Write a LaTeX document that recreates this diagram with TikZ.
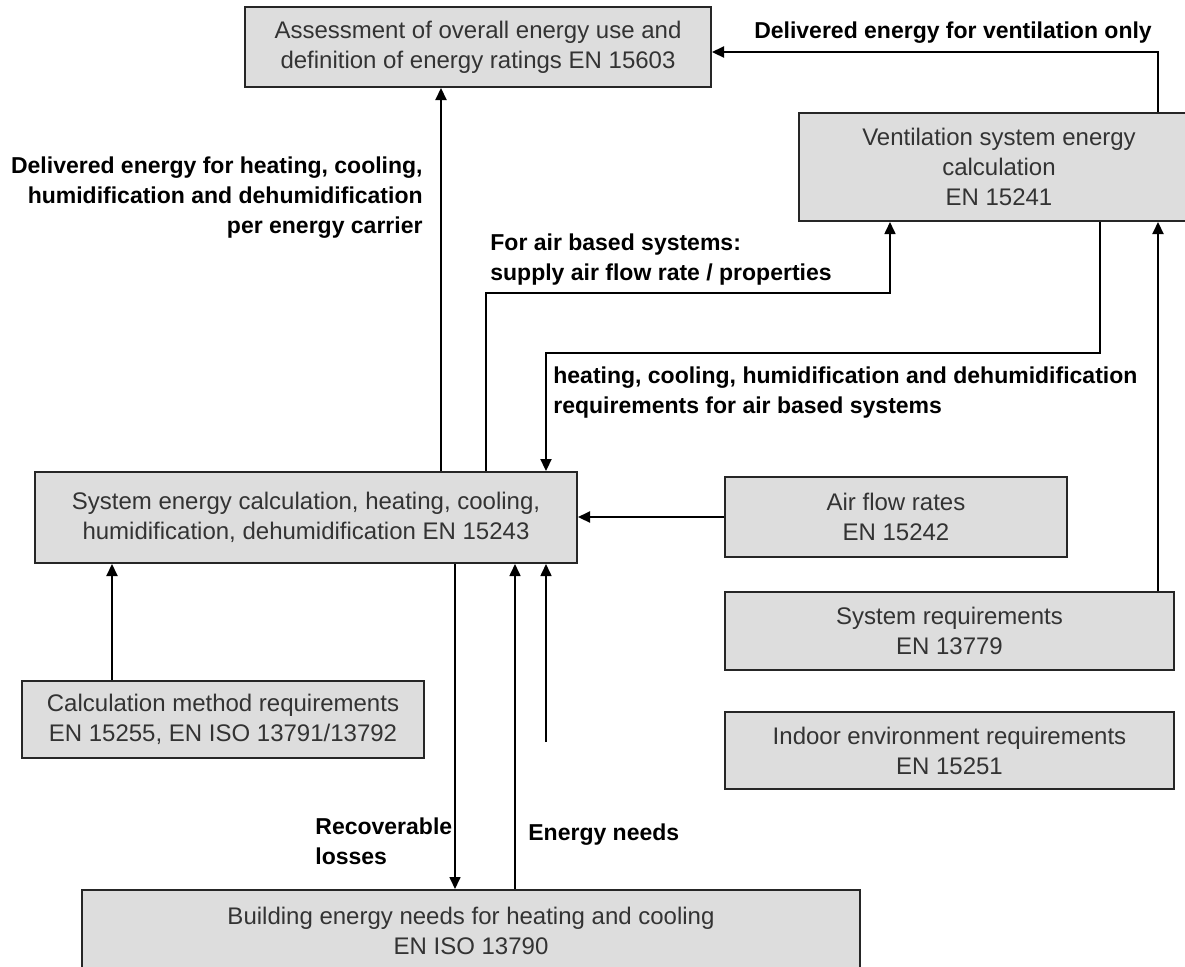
\documentclass[tikz,border=0pt]{standalone}
\usepackage{fontspec}
\setmainfont{Liberation Sans}
\usetikzlibrary{arrows.meta}
\definecolor{boxgray}{RGB}{221,221,221}

\begin{document}
\begin{tikzpicture}
  [x=0.5pt, y=-0.5pt,
   every node/.style={inner sep=0pt},
   box/.style={draw=black!85, fill=boxgray, line width=1pt, text=black!80,
               align=center, font=\fontsize{12}{15}\selectfont},
   lab/.style={font=\bfseries\fontsize{11.5}{15}\selectfont, text=black},
   flow/.style={line width=1.1pt, -{Triangle[length=6pt,width=5.5pt]}},
   thinflow/.style={flow, line width=0.8pt}]
  \useasboundingbox (0,0) rectangle (1185,966);

  \node[box, minimum width=233pt, minimum height=40pt] (assess) at (478,47)
    {Assessment of overall energy use and\\definition of energy ratings EN 15603};
  \node[box, minimum width=200pt, minimum height=54pt] (vent) at (999,167)
    {Ventilation system energy\\calculation\\EN 15241};
  \node[box, minimum width=271pt, minimum height=45.5pt] (system) at (306,517.5)
    {System energy calculation, heating, cooling,\\humidification, dehumidification EN 15243};
  \node[box, minimum width=171pt, minimum height=40pt] (airflow) at (896,517)
    {Air flow rates\\EN 15242};
  \node[box, minimum width=224.5pt, minimum height=39pt] (sysreq) at (949.5,631)
    {System requirements\\EN 13779};
  \node[box, minimum width=224.5pt, minimum height=38.5pt] (indoor) at (949.5,750.5)
    {Indoor environment requirements\\EN 15251};
  \node[box, minimum width=201pt, minimum height=38.5pt] (method) at (223,719.5)
    {Calculation method requirements\\EN 15255, EN ISO 13791/13792};
  \node[box, minimum width=389pt, minimum height=41pt] (needs) at (471,931)
    {Building energy needs for heating and cooling\\EN ISO 13790};

  \coordinate (open) at (546,742);

  \draw[flow] (system.north -| 441,0) -- (assess.south -| 441,0);
  \draw[thinflow] (system.north -| 486,0) -- (486,293) -- (890,293) -- (vent.south -| 890,0);
  \draw[flow] (vent.south -| 1100,0) -- (1100,353) -- (546,353) -- (system.north -| 546,0);
  \draw[flow] (sysreq.north -| 1158,0) -- (vent.south -| 1158,0);
  \draw[flow] (vent.north -| 1158,0) -- (1158,52) -- (assess.east |- 0,52);
  \draw[flow] (airflow.west) -- (system.east |- airflow.west);
  \draw[flow] (method.north -| 112,0) -- (system.south -| 112,0);
  \draw[thinflow] (system.south -| 455,0) -- (needs.north -| 455,0);
  \draw[thinflow] (needs.north -| 515,0) -- (system.south -| 515,0);
  \draw[thinflow] (open) -- (system.south -| open);

  \node[lab, anchor=east, align=right] (dellab) at (423,198)
    {Delivered energy for heating, cooling,\\humidification and dehumidification\\per energy carrier};
  \node[lab] (ventlab) at (953,33) {Delivered energy for ventilation only};
  \node[lab, anchor=west, align=left] (airlab) at (490,260)
    {For air based systems:\\supply air flow rate / properties};
  \node[lab, anchor=west, align=left] (reqlab) at (553,393)
    {heating, cooling, humidification and dehumidification\\requirements for air based systems};
  \node[lab, anchor=west, align=left] (losslab) at (315,841) {Recoverable\\losses};
  \node[lab, anchor=west] (needlab) at (528,835) {Energy needs};
\end{tikzpicture}
\end{document}
